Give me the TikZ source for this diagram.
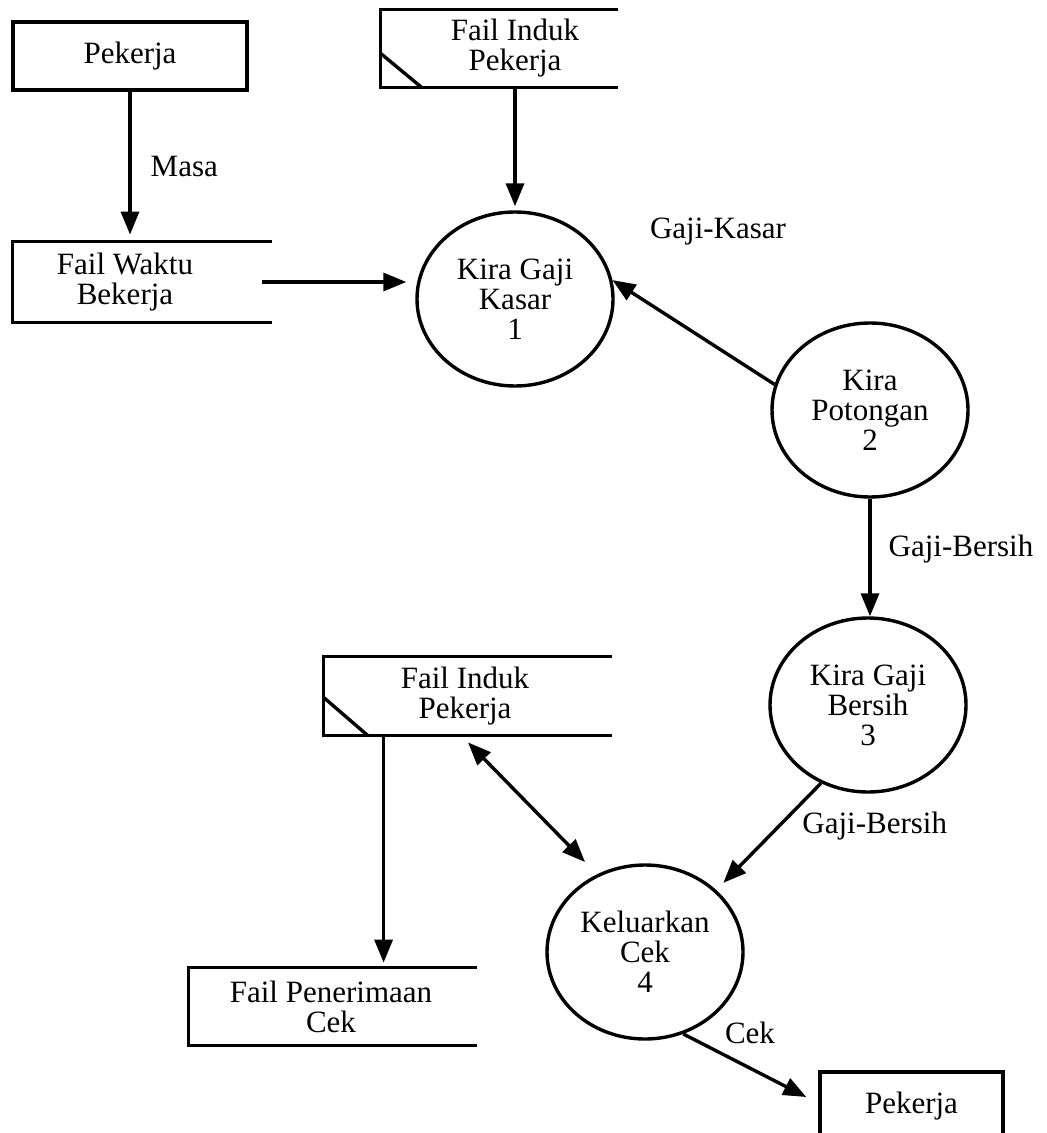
\documentclass[tikz,border=0pt]{standalone}
\usepackage{fontspec}
\setmainfont{Liberation Serif}
\usetikzlibrary{arrows.meta,shapes.geometric,calc}
\begin{document}
\begin{tikzpicture}[x=0.5pt,y=-0.5pt,
  every node/.style={font=\fontsize{15.5}{15}\selectfont},
  ent/.style={draw, line width=1.7pt, rectangle, inner sep=0, align=center},
  store/.style={inner sep=0, align=center},
  storeline/.style={line width=1.7pt, line join=miter},
  proc/.style={ellipse, draw, line width=1.7pt, inner sep=0, minimum width=98pt, minimum height=87pt, align=center},
  flow/.style={line width=1.7pt, -{Triangle[length=11.5pt,width=9pt]}},
  bflow/.style={line width=1.7pt, {Triangle[length=11.5pt,width=9pt]}-{Triangle[length=11.5pt,width=9pt]}},
  lbl/.style={inner sep=0}]
\useasboundingbox (0,0) rectangle (1047,1133);
\fill[white] (0,0) rectangle (1047,1133);
\clip (0,0) rectangle (1047,1133);

% external entities
\node[ent, minimum width=117pt, minimum height=34pt] (pek1) at (130,56) {Pekerja};
\node[ent, minimum width=91.5pt, minimum height=34pt] (pek2) at (911.5,1106) {Pekerja};

% data stores
\node[store, minimum width=112pt, minimum height=40pt] (fw) at (125,282) {Fail Waktu\\Bekerja};
\draw[storeline] ([xshift=17.5pt]fw.north east) -- (fw.north west) -- (fw.south west) -- ([xshift=17.5pt]fw.south east);

\node[store, minimum width=134pt, minimum height=38.5pt] (fi1) at (515,48.5) {Fail Induk\\Pekerja};
\draw[storeline] ([xshift=-15.5pt]fi1.north east) -- (fi1.north west) -- (fi1.south west) -- ([xshift=-15.5pt]fi1.south east);
\draw[storeline] ([yshift=17pt]fi1.south west) -- ([xshift=20.5pt]fi1.south west);

\node[store, minimum width=141pt, minimum height=39pt] (fi2) at (465,696) {Fail Induk\\Pekerja};
\draw[storeline] ([xshift=3pt]fi2.north east) -- (fi2.north west) -- (fi2.south west) -- ([xshift=3pt]fi2.south east);
\draw[storeline] ([yshift=19pt]fi2.south west) -- ([xshift=22pt]fi2.south west);

\node[store, minimum width=142pt, minimum height=38.5pt] (fpc) at (331,1006.5) {Fail Penerimaan\\Cek};
\draw[storeline] ([xshift=2pt]fpc.north east) -- (fpc.north west) -- (fpc.south west) -- ([xshift=2pt]fpc.south east);

% processes
\node[proc] (c1) at (515,299) {Kira Gaji\\Kasar\\1};
\node[proc] (c2) at (870,410) {Kira\\Potongan\\2};
\node[proc] (c3) at (868,705) {Kira Gaji\\Bersih\\3};
\node[proc] (c4) at (645,952) {Keluarkan\\Cek\\4};

% flows
\draw[flow, shorten >=3.5pt] (pek1.south) -- (pek1.south |- fw.north)
  node[lbl, midway, right=9.5pt] {Masa};
\draw[flow, shorten >=4.5pt] ([xshift=12.5pt]fw.east) -- (c1.west |- fw.east);
\draw[flow, shorten >=2pt] (fi1.south) -- (c1.north);
\draw[flow] (c2.165) -- (c1.11);
\node[lbl] (lgk) at (718,232) {Gaji-Kasar};
\draw[flow] (c2.south) -- (c2.south |- c3.north)
  node[lbl, midway, right=8.5pt, yshift=4pt] {Gaji-Bersih};
\draw[flow, shorten >=5pt] (c3.239) -- (c4.41);
\node[lbl, anchor=west] (lgb) at (802,826) {Gaji-Bersih};
\draw[bflow] ([shift={(1.5pt,-3.5pt)}]fi2.south) -- ([shift={(-30pt,45pt)}]c4.center);
\draw[flow, shorten >=2.5pt] ([xshift=30pt]fi2.south west) -- ([xshift=30pt]fi2.south west |- fpc.north);
\draw[flow] (c4.295) -- ([shift={(-6pt,4.5pt)}]pek2.west);
\node[lbl] (lcek) at (750,1033) {Cek};
\end{tikzpicture}
\end{document}
